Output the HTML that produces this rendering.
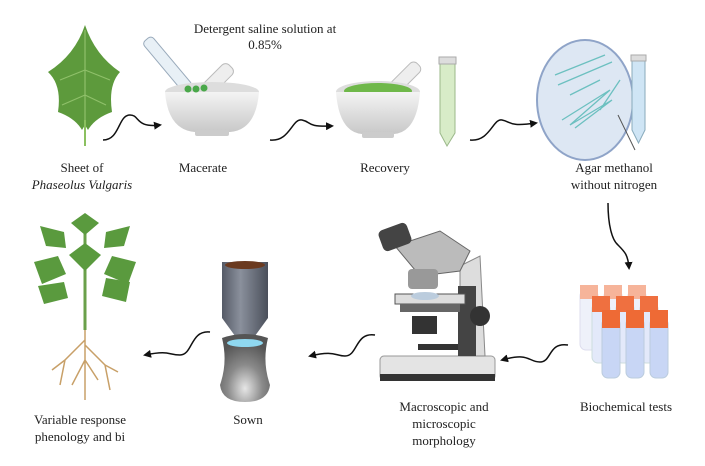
<!DOCTYPE html>
<html><head><meta charset="utf-8"><style>
html,body{margin:0;padding:0;background:#fff;}
svg{display:block;}
text{font-family:"Liberation Serif",serif;font-size:13px;fill:#222;}
</style></head><body>
<svg width="705" height="466" viewBox="0 0 705 466" xmlns="http://www.w3.org/2000/svg">
<defs>
<marker id="ah" markerWidth="8" markerHeight="8" refX="6" refY="4" orient="auto" markerUnits="userSpaceOnUse"><path d="M0,0 L8,4 L0,8 Z" fill="#111"/></marker>
<linearGradient id="bowl" x1="0" x2="0" y1="0" y2="1"><stop offset="0" stop-color="#f4f4f4"/><stop offset="1" stop-color="#c8c8c8"/></linearGradient>
<linearGradient id="cyl" x1="0" x2="1"><stop offset="0" stop-color="#555a66"/><stop offset="0.4" stop-color="#8a909c"/><stop offset="1" stop-color="#4a4f5a"/></linearGradient>
<radialGradient id="vase" cx="0.5" cy="0.8" r="0.7"><stop offset="0" stop-color="#e6e6e6"/><stop offset="0.5" stop-color="#8a8a8a"/><stop offset="1" stop-color="#555"/></radialGradient>
</defs>

<!-- Leaf -->
<path d="M85,25 Q95,55 120,72 Q108,85 112,112 Q95,118 88,130 L85,125 L82,130 Q75,118 58,112 Q62,85 48,72 Q75,55 85,25 Z" fill="#5d9a3c"/>
<path d="M85,30 L85,125 M85,70 L60,80 M85,70 L110,80 M85,95 L62,105 M85,95 L106,105" stroke="#8fc06a" stroke-width="1.2" fill="none"/>
<line x1="85" y1="120" x2="85" y2="146" stroke="#8bc060" stroke-width="2"/>

<!-- Mortar 1 -->
<rect x="158" y="33" width="12" height="65" rx="4" fill="#e8f0f6" stroke="#9ab" transform="rotate(-40 164 60)"/>
<rect x="208" y="60" width="14" height="45" rx="5" fill="#eee" stroke="#bbb" transform="rotate(45 215 82)"/>
<ellipse cx="212" cy="92" rx="47" ry="10" fill="#ddd"/>
<path d="M165,92 Q168,130 195,132 L230,132 Q256,130 259,92 Z" fill="url(#bowl)"/>
<rect x="195" y="130" width="34" height="6" rx="2" fill="#ccc"/>
<circle cx="188" cy="89" r="3.5" fill="#4aa84a"/><circle cx="196" cy="89" r="3.5" fill="#4aa84a"/><circle cx="204" cy="88" r="3.5" fill="#4aa84a"/>

<!-- Mortar 2 -->
<rect x="397" y="58" width="13" height="42" rx="5" fill="#eee" stroke="#bbb" transform="rotate(45 403 79)"/>
<ellipse cx="378" cy="92" rx="42" ry="11" fill="#ddd"/>
<ellipse cx="378" cy="91" rx="34" ry="8" fill="#6fb84a"/>
<path d="M336,92 Q339,132 362,134 L394,134 Q417,132 420,92 Z" fill="url(#bowl)"/>
<rect x="362" y="132" width="32" height="6" rx="2" fill="#ccc"/>
<path d="M440,60 L455,60 L455,133 L447,146 L440,133 Z" fill="#d8ecc8" stroke="#9bb88a"/>
<rect x="439" y="57" width="17" height="7" fill="#ddd" stroke="#aaa"/>

<!-- Petri -->
<ellipse cx="585" cy="100" rx="48" ry="60" fill="#dde7f3" stroke="#8fa4c8" stroke-width="2"/>
<path d="M555,75 L605,55 M558,85 L612,62 M562,120 L610,90 L570,125 L612,100 L575,128 M570,95 L600,80 M600,110 L620,80" stroke="#6cc0c0" stroke-width="1.3" fill="none"/>
<line x1="618" y1="115" x2="635" y2="150" stroke="#555"/>
<path d="M632,58 L645,58 L645,130 L638.5,143 L632,130 Z" fill="#cfe5f5" stroke="#8ab"/>
<rect x="631" y="55" width="15" height="6" fill="#ddd" stroke="#aaa"/>

<!-- Arrows top -->
<path d="M103,140 C120,140 118,115 130,115 C140,115 135,128 160,125" stroke="#111" stroke-width="1.5" fill="none" marker-end="url(#ah)"/>
<path d="M270,140 C290,142 292,118 302,120 C312,122 305,127 332,126" stroke="#111" stroke-width="1.5" fill="none" marker-end="url(#ah)"/>
<path d="M470,140 C490,142 493,118 502,120 C512,122 508,127 536,123" stroke="#111" stroke-width="1.5" fill="none" marker-end="url(#ah)"/>
<path d="M608,203 C608,225 612,240 618,245 C625,252 628,255 629,268" stroke="#111" stroke-width="1.5" fill="none" marker-end="url(#ah)"/>

<!-- Test tubes -->
<g>
<rect x="580" y="290" width="18" height="60" rx="6" fill="#eef1fa" stroke="#dde"/><rect x="580" y="285" width="18" height="14" fill="#f6b49a"/>
<rect x="604" y="290" width="18" height="60" rx="6" fill="#eef1fa" stroke="#dde"/><rect x="604" y="285" width="18" height="14" fill="#f6b49a"/>
<rect x="628" y="290" width="18" height="60" rx="6" fill="#eef1fa" stroke="#dde"/><rect x="628" y="285" width="18" height="14" fill="#f6b49a"/>
<rect x="592" y="303" width="18" height="60" rx="6" fill="#e3e9fa" stroke="#cdd"/><rect x="592" y="296" width="18" height="16" fill="#ef7040"/>
<rect x="616" y="303" width="18" height="60" rx="6" fill="#e3e9fa" stroke="#cdd"/><rect x="616" y="296" width="18" height="16" fill="#ef7040"/>
<rect x="640" y="303" width="18" height="60" rx="6" fill="#e3e9fa" stroke="#cdd"/><rect x="640" y="296" width="18" height="16" fill="#ef7040"/>
<rect x="602" y="318" width="18" height="60" rx="6" fill="#c8d6f5" stroke="#bcd"/><rect x="602" y="310" width="18" height="18" fill="#ee6a35"/>
<rect x="626" y="318" width="18" height="60" rx="6" fill="#c8d6f5" stroke="#bcd"/><rect x="626" y="310" width="18" height="18" fill="#ee6a35"/>
<rect x="650" y="318" width="18" height="60" rx="6" fill="#c8d6f5" stroke="#bcd"/><rect x="650" y="310" width="18" height="18" fill="#ee6a35"/>
</g>

<!-- Microscope -->
<g transform="translate(0,-14)">
<rect x="380" y="370" width="115" height="24" rx="4" fill="#e4e4e4" stroke="#999"/>
<rect x="380" y="388" width="115" height="7" fill="#333"/>
<path d="M460,280 L480,270 L485,370 L460,370 Z" fill="#ddd" stroke="#888"/>
<rect x="458" y="300" width="18" height="70" fill="#444"/>
<path d="M395,260 L440,245 L470,265 L460,285 L420,290 Z" fill="#bbb" stroke="#666"/>
<rect x="380" y="240" width="30" height="22" rx="5" fill="#444" transform="rotate(-20 395 251)"/>
<rect x="408" y="283" width="30" height="20" rx="4" fill="#999"/>
<rect x="395" y="308" width="70" height="10" fill="#ddd" stroke="#555"/>
<ellipse cx="425" cy="310" rx="14" ry="4" fill="#bcd"/>
<rect x="400" y="318" width="60" height="8" fill="#666"/>
<rect x="412" y="330" width="25" height="18" fill="#333"/>
<circle cx="480" cy="330" r="10" fill="#333"/>
<rect x="418" y="358" width="40" height="6" fill="#333"/>
</g>

<!-- Sown -->
<path d="M222,262 L268,262 L268,318 L252,340 L238,340 L222,318 Z" fill="url(#cyl)"/>
<ellipse cx="245" cy="265" rx="20" ry="4" fill="#6b3a1f"/>
<path d="M222,338 Q245,330 268,338 Q262,362 270,385 Q268,402 245,402 Q222,402 220,385 Q228,362 222,338 Z" fill="url(#vase)"/>
<ellipse cx="245" cy="343" rx="18" ry="4" fill="#8fd8f0"/>

<!-- Plant -->
<line x1="85" y1="218" x2="85" y2="330" stroke="#6aa04a" stroke-width="3"/>
<g fill="#5a9a3e">
<path d="M85,213 l-14,10 l14,12 l14,-12 Z"/>
<path d="M64,232 l-24,-6 l6,20 l20,2 Z"/><path d="M106,232 l24,-6 l-6,20 l-20,2 Z"/>
<path d="M85,243 l-16,12 l16,16 l16,-16 Z"/>
<path d="M58,256 l-24,6 l8,22 l24,-10 Z"/><path d="M112,256 l24,6 l-8,22 l-24,-10 Z"/>
<path d="M64,282 l-26,4 l6,18 l24,-6 Z"/><path d="M106,278 l24,4 l-4,20 l-24,-6 Z"/>
</g>
<path d="M85,330 L85,400 M85,340 L65,360 L60,385 M85,345 L105,365 L110,390 M85,360 L72,385 M85,360 L98,380 M65,360 L52,370 M105,365 L118,372" stroke="#c8a068" stroke-width="1.5" fill="none"/>

<!-- Arrows bottom -->
<path d="M568,345 C548,342 552,362 540,362 C528,362 530,352 502,360" stroke="#111" stroke-width="1.5" fill="none" marker-end="url(#ah)"/>
<path d="M375,335 C355,332 358,356 345,356 C335,356 335,350 310,356" stroke="#111" stroke-width="1.5" fill="none" marker-end="url(#ah)"/>
<path d="M210,332 C190,330 193,355 180,355 C168,355 170,350 145,355" stroke="#111" stroke-width="1.5" fill="none" marker-end="url(#ah)"/>

<!-- Labels -->
<text x="265" y="33" text-anchor="middle">Detergent saline solution at</text>
<text x="265" y="49" text-anchor="middle">0.85%</text>
<text x="82" y="172" text-anchor="middle">Sheet of</text>
<text x="82" y="189" text-anchor="middle" font-style="italic">Phaseolus Vulgaris</text>
<text x="203" y="172" text-anchor="middle">Macerate</text>
<text x="385" y="172" text-anchor="middle">Recovery</text>
<text x="614" y="172" text-anchor="middle">Agar methanol</text>
<text x="614" y="189" text-anchor="middle">without nitrogen</text>
<text x="80" y="424" text-anchor="middle">Variable response</text>
<text x="80" y="441" text-anchor="middle">phenology and bi</text>
<text x="248" y="424" text-anchor="middle">Sown</text>
<text x="444" y="411" text-anchor="middle">Macroscopic and</text>
<text x="444" y="428" text-anchor="middle">microscopic</text>
<text x="444" y="445" text-anchor="middle">morphology</text>
<text x="626" y="411" text-anchor="middle">Biochemical tests</text>
</svg>
</body></html>
